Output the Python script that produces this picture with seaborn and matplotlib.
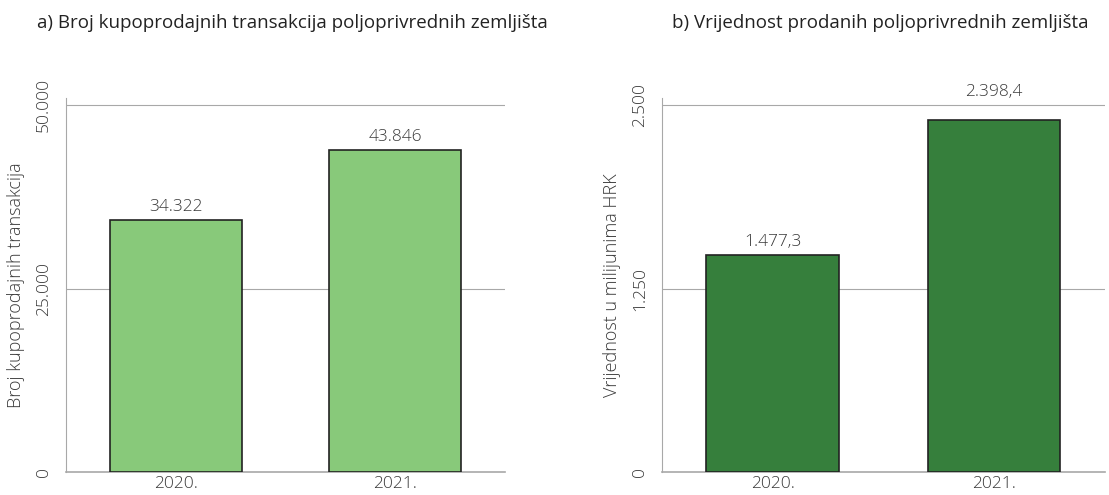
import matplotlib
matplotlib.use("Agg")
import matplotlib.pyplot as plt
import seaborn as sns
import pandas as pd

years = ["2020.", "2021."]
transactions = [34322, 43846]
value_mhrk = [1477.3, 2398.4]
labels_a = ["34.322", "43.846"]
labels_b = ["1.477,3", "2.398,4"]
ticks_a = [0, 25000, 50000]
ticklabels_a = ["0", "25.000", "50.000"]
ticks_b = [0, 1250, 2500]
ticklabels_b = ["0", "1.250", "2.500"]

sns.set_theme(style="white")
plt.rcParams['font.family'] = ['Open Sans', 'DejaVu Sans']

fig = plt.figure(figsize=(11.09, 4.95), dpi=100)
ax1 = fig.add_axes([0.0595, 0.0465, 0.396, 0.7556])
ax2 = fig.add_axes([0.597, 0.0465, 0.399, 0.7556])

txt = "#3a3a3a"
grid = "#a8a8a8"
FS = 12.5

def draw(ax, vals, color, labels, ticks, ticklabels, ylim, ylabel):
    df = pd.DataFrame({"year": years, "v": vals})
    sns.barplot(data=df, x="year", y="v", ax=ax, color=color, width=0.6,
                edgecolor="#222222", linewidth=1.2, saturation=1, zorder=3)
    ax.set_xlim(-0.5, 1.5)
    ax.set_ylim(0, ylim)
    ax.set_yticks(ticks)
    ax.set_yticklabels(ticklabels, rotation=90, va="center", fontsize=FS, color=txt, fontweight="light")
    ax.tick_params(axis="y", length=5, color=grid, width=0.8, pad=5)
    ax.tick_params(axis="x", length=0, labelsize=FS, labelcolor=txt, pad=3)
    for lab in ax.get_xticklabels():
        lab.set_fontweight("light")
    for t in ticks[1:]:
        ax.axhline(t, color=grid, lw=0.8, zorder=1)
    for s in ["top", "right"]:
        ax.spines[s].set_visible(False)
    ax.spines["left"].set_color(grid)
    ax.spines["left"].set_linewidth(0.8)
    ax.spines["bottom"].set_color(grid)
    ax.spines["bottom"].set_linewidth(1.2)
    ax.set_xlabel("")
    ax.set_ylabel(ylabel, fontsize=13, color=txt, fontweight="light", labelpad=8)
    # label height in data units (approx 20 px of axes height)
    ax_h_px = ax.get_position().height * fig.get_figheight() * fig.dpi
    lab_h = 22 / ax_h_px * ylim
    for i, (v, l) in enumerate(zip(vals, labels)):
        base = v
        for t in ticks[1:]:
            if v < t < v + lab_h:
                base = t
        ax.annotate(l, (i, base), xytext=(0, 4), textcoords="offset points",
                    ha="center", va="bottom", fontsize=FS, color=txt, fontweight="light")

draw(ax1, transactions, "#88c97a", labels_a, ticks_a, ticklabels_a, 51000,
     "Broj kupoprodajnih transakcija")
draw(ax2, value_mhrk, "#367f3c", labels_b, ticks_b, ticklabels_b, 2550,
     "Vrijednost u milijunima HRK")

fig.text(292/1109, 1-23/495, "a) Broj kupoprodajnih transakcija poljoprivrednih zemljišta",
         ha="center", va="center", fontsize=13.5, color="#222222")
fig.text(880/1109, 1-23/495, "b) Vrijednost prodanih poljoprivrednih zemljišta",
         ha="center", va="center", fontsize=13.5, color="#222222")

fig.savefig("out.png", dpi=100)
